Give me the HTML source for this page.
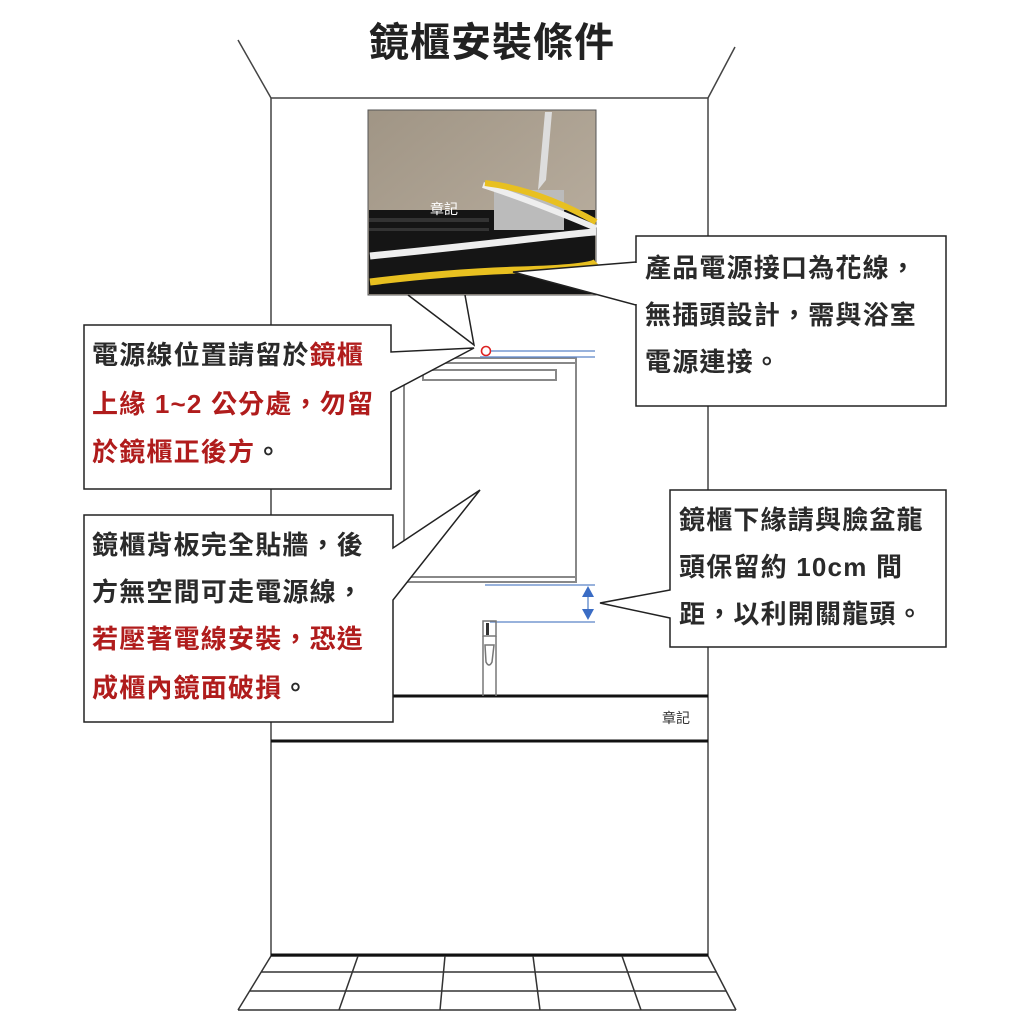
<!DOCTYPE html>
<html><head><meta charset="utf-8"><style>
html,body{margin:0;padding:0;background:#fff;}
svg{display:block;}
text{font-family:"Liberation Sans","Noto Sans CJK TC",sans-serif;}
.t{font-size:26px;font-weight:bold;fill:#2a2a2a;letter-spacing:1.2px;}
.r{fill:#b01c1c;}
</style></head><body>
<svg width="1024" height="1024" viewBox="0 0 1024 1024" xmlns="http://www.w3.org/2000/svg">
<defs>
<linearGradient id="wall" x1="0" y1="0" x2="1" y2="1"><stop offset="0" stop-color="#a09585"/><stop offset="1" stop-color="#bcb1a2"/></linearGradient>
</defs>
<text x="492" y="56" text-anchor="middle" font-size="40" font-weight="bold" fill="#222" letter-spacing="1">鏡櫃安裝條件</text>
<g stroke="#444" stroke-width="1.5" fill="none">
<line x1="238" y1="40" x2="271" y2="98"/>
<line x1="735" y1="47" x2="708" y2="98"/>
<rect x="271" y="98" width="437" height="858"/>
</g>
<g stroke="#111" stroke-width="3">
<line x1="271" y1="696" x2="708" y2="696"/>
<line x1="271" y1="741" x2="708" y2="741"/>
<line x1="271" y1="955" x2="708" y2="955"/>
</g>
<g stroke="#333" stroke-width="1.5" fill="none">
<line x1="271" y1="956" x2="238" y2="1010"/>
<line x1="708" y1="956" x2="736" y2="1010"/>
<line x1="238" y1="1010" x2="736" y2="1010"/>
<line x1="261" y1="972" x2="716" y2="972"/>
<line x1="250" y1="991" x2="726" y2="991"/>
<line x1="358" y1="956" x2="339" y2="1010"/>
<line x1="445" y1="956" x2="440" y2="1010"/>
<line x1="533" y1="956" x2="540" y2="1010"/>
<line x1="622" y1="956" x2="641" y2="1010"/>
</g>
<rect x="368" y="110" width="228" height="185" fill="url(#wall)" stroke="#555"/>
<rect x="369" y="210" width="226" height="84" fill="#151515"/>
<rect x="369" y="218" width="120" height="4" fill="#333"/>
<rect x="369" y="228" width="120" height="3" fill="#333"/>
<rect x="494" y="190" width="70" height="40" fill="#bbb"/>
<path d="M545 112 L552 112 L546 180 L538 190Z" fill="#ddd"/>
<path d="M370 256 Q450 248 520 240 T596 232" stroke="#eee" stroke-width="7" fill="none"/>
<path d="M370 282 Q450 272 520 270 T596 262" stroke="#e8c020" stroke-width="7" fill="none"/>
<path d="M483 185 Q530 200 596 228" stroke="#eee" stroke-width="6" fill="none"/>
<path d="M485 183 Q540 190 596 222" stroke="#e8c020" stroke-width="6" fill="none"/>
<text x="444" y="214" text-anchor="middle" font-size="14" fill="#fff">章記</text>
<polygon points="636,262 513,272 636,305" fill="#fff" stroke="none"/>
<polyline points="636,262 513,272 636,305" fill="none" stroke="#222" stroke-width="1.5"/>
<polyline points="408,295 474,345 465,295" fill="none" stroke="#222" stroke-width="1.5"/>
<g stroke="#888" stroke-width="2" fill="none">
<rect x="404" y="358" width="172" height="224"/>
<line x1="404" y1="363" x2="576" y2="363"/>
<rect x="423" y="370" width="133" height="10"/>
<line x1="404" y1="577" x2="576" y2="577"/>
</g>
<circle cx="486" cy="351" r="4.5" fill="none" stroke="#d22" stroke-width="1.6"/>
<g stroke="#5b85c8" stroke-width="1.3">
<line x1="491" y1="351" x2="595" y2="351"/>
<line x1="480" y1="357" x2="595" y2="357"/>
<line x1="485" y1="585" x2="595" y2="585"/>
<line x1="490" y1="622" x2="595" y2="622"/>
<line x1="588" y1="592" x2="588" y2="615"/>
</g>
<polygon points="582,597 588,586 594,597" fill="#3a6cc4"/>
<polygon points="582,609 588,620 594,609" fill="#3a6cc4"/>
<g stroke="#777" stroke-width="1.5" fill="none">
<rect x="483" y="621" width="13" height="15"/>
<line x1="483" y1="636" x2="483" y2="696"/>
<line x1="496" y1="636" x2="496" y2="696"/>
<path d="M485 645 L494 645 L492 662 Q489 668 486 662Z"/>
</g>
<rect x="486" y="623" width="3" height="12" fill="#333"/>
<text x="676" y="723" text-anchor="middle" font-size="14" fill="#333">章記</text>
<path d="M84 325 H391 V352 L474 348 L391 392 V489 H84 Z" fill="#fff" stroke="#222" stroke-width="1.5"/>
<text x="92" y="364" class="t">電源線位置請留於<tspan class="r">鏡櫃</tspan></text>
<text x="92" y="413" class="t r">上緣 1~2 公分處，勿留</text>
<text x="92" y="461" class="t"><tspan class="r">於鏡櫃正後方</tspan>。</text>
<path d="M84 515 H393 V548 L480 490 L393 600 V722 H84 Z" fill="#fff" stroke="#222" stroke-width="1.5"/>
<text x="92" y="554" class="t">鏡櫃背板完全貼牆，後</text>
<text x="92" y="601" class="t">方無空間可走電源線，</text>
<text x="92" y="648" class="t r">若壓著電線安裝，恐造</text>
<text x="92" y="697" class="t"><tspan class="r">成櫃內鏡面破損</tspan>。</text>
<rect x="636" y="236" width="310" height="170" fill="#fff" stroke="#222" stroke-width="1.5"/>
<line x1="636" y1="263" x2="636" y2="304" stroke="#fff" stroke-width="3"/>
<text x="645" y="277" class="t">產品電源接口為花線，</text>
<text x="645" y="324" class="t">無插頭設計，需與浴室</text>
<text x="645" y="371" class="t">電源連接。</text>
<path d="M670 490 H946 V647 H670 V618 L600 603 L670 590 Z" fill="#fff" stroke="#222" stroke-width="1.5"/>
<text x="679" y="529" class="t">鏡櫃下緣請與臉盆龍</text>
<text x="679" y="576" class="t">頭保留約 10cm 間</text>
<text x="679" y="623" class="t">距，以利開關龍頭。</text>
</svg>
</body></html>
